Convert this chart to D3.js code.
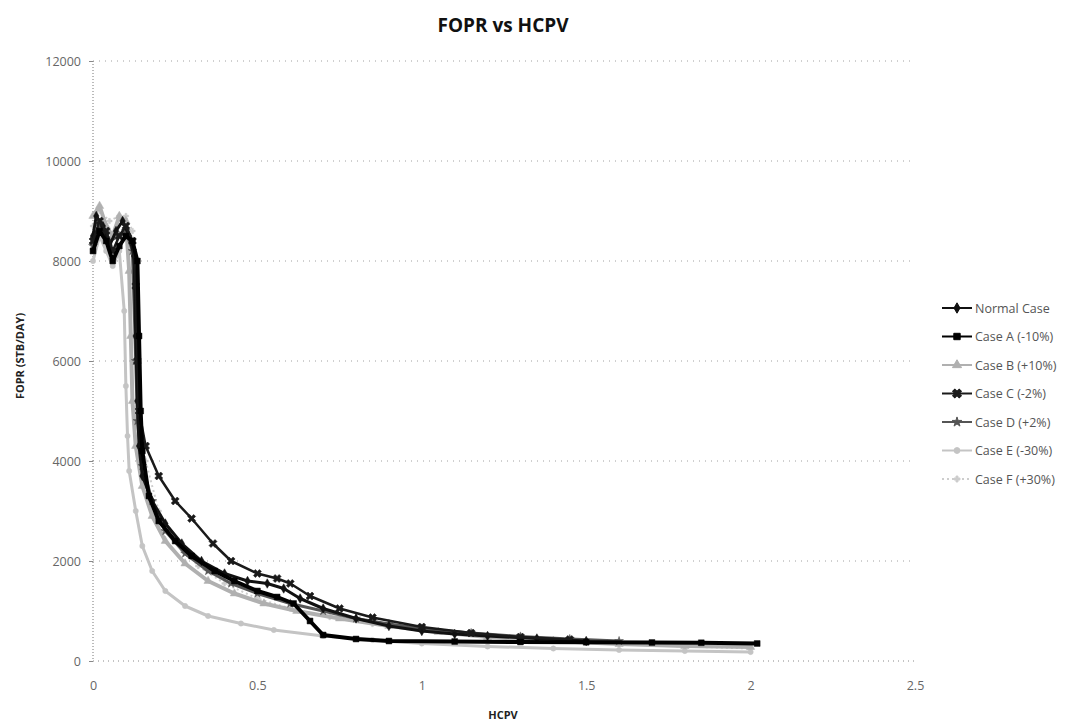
<!DOCTYPE html>
<html><head><meta charset="utf-8">
<script src="https://cdn.jsdelivr.net/npm/d3@7/dist/d3.min.js"></script>
<style>body{margin:0;background:#fff}svg{display:block}</style>
</head><body><svg id="chart" width="1076" height="728"></svg>
<script>
// ---- data ----
const seriesNames = ["Normal Case","Case A (-10%)","Case B (+10%)","Case C (-2%)","Case D (+2%)","Case E (-30%)","Case F (+30%)"];
const xTicks = [0,0.5,1,1.5,2,2.5];
const xTickLabels = ["0","0.5","1","1.5","2","2.5"];
const yTicks = [0,2000,4000,6000,8000,10000,12000];
const yTickLabels = ["0","2000","4000","6000","8000","10000","12000"];

const normalHCPV = [0,0.01,0.03,0.05,0.07,0.09,0.11,0.125,0.13,0.135,0.14,0.15,0.18,0.22,0.27,0.33,0.4,0.47,0.53,0.58,0.63,0.7,0.8,0.9,1.0,1.1,1.2,1.35,1.5];
const normalFOPR = [8500,8900,8700,8300,8600,8800,8500,8100,6500,5200,4300,3700,3200,2750,2350,2000,1750,1600,1550,1450,1250,1050,850,700,600,540,500,450,400];

const caseAHCPV = [0,0.02,0.04,0.06,0.08,0.1,0.12,0.135,0.14,0.145,0.15,0.17,0.2,0.25,0.3,0.37,0.43,0.5,0.56,0.61,0.66,0.7,0.8,0.9,1.1,1.3,1.5,1.7,1.85,2.02];
const caseAFOPR = [8200,8600,8400,8000,8300,8500,8400,8000,6500,5000,4200,3300,2800,2400,2100,1800,1600,1400,1280,1150,800,520,440,400,390,380,375,370,365,350];

const caseBHCPV = [0,0.02,0.04,0.06,0.08,0.1,0.11,0.115,0.12,0.13,0.15,0.18,0.22,0.28,0.35,0.43,0.52,0.62,0.75,0.9,1.05,1.2,1.4,1.6,1.8,2.0];
const caseBFOPR = [8900,9100,8700,8500,8900,8800,7800,6500,5200,4300,3500,2900,2400,1950,1600,1350,1150,1000,850,700,580,480,400,340,300,280];

const caseCHCPV = [0,0.02,0.04,0.06,0.08,0.1,0.12,0.13,0.135,0.14,0.16,0.2,0.25,0.3,0.365,0.42,0.5,0.56,0.6,0.66,0.75,0.85,1.0,1.15,1.3,1.45];
const caseCFOPR = [8400,8800,8600,8200,8500,8700,8400,7500,6000,5000,4300,3700,3200,2850,2350,2000,1750,1650,1550,1300,1050,870,680,560,480,430];

const caseDHCPV = [0,0.02,0.05,0.08,0.1,0.12,0.13,0.135,0.15,0.18,0.22,0.28,0.35,0.42,0.5,0.6,0.7,0.8,0.9,1.0,1.15,1.3,1.45,1.6];
const caseDFOPR = [8300,8700,8400,8500,8600,8200,6000,4800,3900,3200,2600,2150,1800,1550,1350,1150,1000,850,740,650,560,490,440,400];

const caseEHCPV = [0,0.02,0.04,0.06,0.08,0.095,0.1,0.105,0.11,0.13,0.15,0.18,0.22,0.28,0.35,0.45,0.55,0.7,0.85,1.0,1.2,1.4,1.6,1.8,2.0];
const caseEFOPR = [8000,8500,8200,7900,8200,7000,5500,4500,3800,3000,2300,1800,1400,1100,900,750,620,500,420,350,290,250,220,200,180];

const caseFHCPV = [0,0.02,0.05,0.08,0.1,0.12,0.13,0.135,0.14,0.16,0.2,0.25,0.32,0.4,0.5,0.6,0.72,0.85,1.0,1.2,1.4,1.6,1.8,2.0];
const caseFFOPR = [8700,9000,8800,8900,8900,8600,7500,6000,5000,4000,3000,2400,1900,1550,1250,1050,880,740,620,500,410,340,290,250];

const seriesHCPV = [normalHCPV,caseAHCPV,caseBHCPV,caseCHCPV,caseDHCPV,caseEHCPV,caseFHCPV];
const seriesFOPR = [normalFOPR,caseAFOPR,caseBFOPR,caseCFOPR,caseDFOPR,caseEFOPR,caseFFOPR];

// ---- styles ----
const colors = ["#111","#000","#b0b0b0","#1a1a1a","#555","#c4c4c4","#cdcdcd"];
const widths = [3,4,4,2.5,3,3,2];
const dashes = [null,null,null,null,null,null,"2,3"];
const symbols = [d3.symbolDiamond,d3.symbolSquare,d3.symbolTriangle,d3.symbolCross,d3.symbolStar,d3.symbolCircle,d3.symbolCross];
const symSizes = [26,34,30,40,24,22,16];
const drawOrder = [6,5,2,4,0,3,1];

const svg = d3.select("#chart");
svg.append("rect").attr("width",1076).attr("height",728).attr("fill","#fff");

const x = d3.scaleLinear().domain([0,2.5]).range([93,915]);
const y = d3.scaleLinear().domain([0,12000]).range([661,61]);

const font = "'Open Sans', 'Liberation Sans', sans-serif";

// gridlines
svg.append("g").selectAll("line").data(yTicks.filter(d=>d>0)).join("line")
  .attr("x1",x(0)).attr("x2",x(2.5)).attr("y1",d=>y(d)).attr("y2",d=>y(d))
  .attr("stroke","#a0a0a0").attr("stroke-width",1).attr("stroke-dasharray","1,5");

// axes (dotted look)
svg.append("line").attr("x1",x(0)).attr("x2",x(0)).attr("y1",y(12000)).attr("y2",y(0))
  .attr("stroke","#777").attr("stroke-width",1).attr("stroke-dasharray","1,2");
svg.append("line").attr("x1",x(0)).attr("x2",x(2.5)).attr("y1",y(0)).attr("y2",y(0))
  .attr("stroke","#888").attr("stroke-width",1).attr("stroke-dasharray","1,4");

const yAxis = d3.axisLeft(y).tickValues(yTicks).tickFormat((d,i)=>yTickLabels[i]).tickSize(4).tickPadding(8);
const gy = svg.append("g").attr("transform",`translate(${x(0)},0)`).call(yAxis);
gy.select(".domain").remove();
gy.selectAll("line").attr("stroke","#888");
gy.selectAll("text").attr("font-family",font).attr("font-size",12.5).attr("fill","#666");

const xAxis = d3.axisBottom(x).tickValues(xTicks).tickFormat((d,i)=>xTickLabels[i]).tickSize(0).tickPadding(20);
const gx = svg.append("g").attr("transform",`translate(0,${y(0)})`).call(xAxis);
gx.select(".domain").remove();
gx.selectAll("text").attr("font-family",font).attr("font-size",12.5).attr("fill","#666");

// series
const line = d3.line().x(d=>x(d[0])).y(d=>y(d[1]));
const plot = svg.append("g");
drawOrder.forEach(i=>{
  const pts = seriesHCPV[i].map((h,k)=>[h,seriesFOPR[i][k]]);
  const g = plot.append("g");
  g.append("path").datum(pts).attr("d",line).attr("fill","none")
    .attr("stroke",colors[i]).attr("stroke-width",widths[i])
    .attr("stroke-dasharray",dashes[i]).attr("stroke-linejoin","round");
  g.selectAll("path.m").data(pts).join("path").attr("class","m")
    .attr("d",d3.symbol().type(symbols[i]).size(symSizes[i]))
    .attr("transform",d=>`translate(${x(d[0])},${y(d[1])})`+(i===3?" rotate(45)":""))
    .attr("fill",colors[i]).attr("stroke",colors[i]).attr("stroke-width",0.5);
});

// titles
svg.append("text").attr("x",503).attr("y",32).attr("text-anchor","middle")
  .attr("font-family",font).attr("font-weight","bold").attr("font-size",19).attr("fill","#111")
  .text("FOPR vs HCPV");
svg.append("text").attr("x",503).attr("y",719).attr("text-anchor","middle")
  .attr("font-family",font).attr("font-weight","bold").attr("font-size",11).attr("fill","#222")
  .text("HCPV");
svg.append("text").attr("transform","translate(24,356) rotate(-90)").attr("text-anchor","middle")
  .attr("font-family",font).attr("font-weight","bold").attr("font-size",11).attr("fill","#222")
  .text("FOPR (STB/DAY)");

// legend
const lg = svg.append("g");
seriesNames.forEach((name,i)=>{
  const yy = 308 + i*28.5;
  lg.append("line").attr("x1",942).attr("x2",972).attr("y1",yy).attr("y2",yy)
    .attr("stroke",colors[i]).attr("stroke-width",Math.min(widths[i],2))
    .attr("stroke-dasharray",dashes[i]);
  lg.append("path").attr("d",d3.symbol().type(symbols[i]).size(symSizes[i]*1.2))
    .attr("transform",`translate(957,${yy})`+(i===3?" rotate(45)":""))
    .attr("fill",colors[i]).attr("stroke",colors[i]);
  lg.append("text").attr("x",975).attr("y",yy+4.5).attr("font-family",font)
    .attr("font-size",12.5).attr("fill","#555").text(name);
});
</script></body></html>
